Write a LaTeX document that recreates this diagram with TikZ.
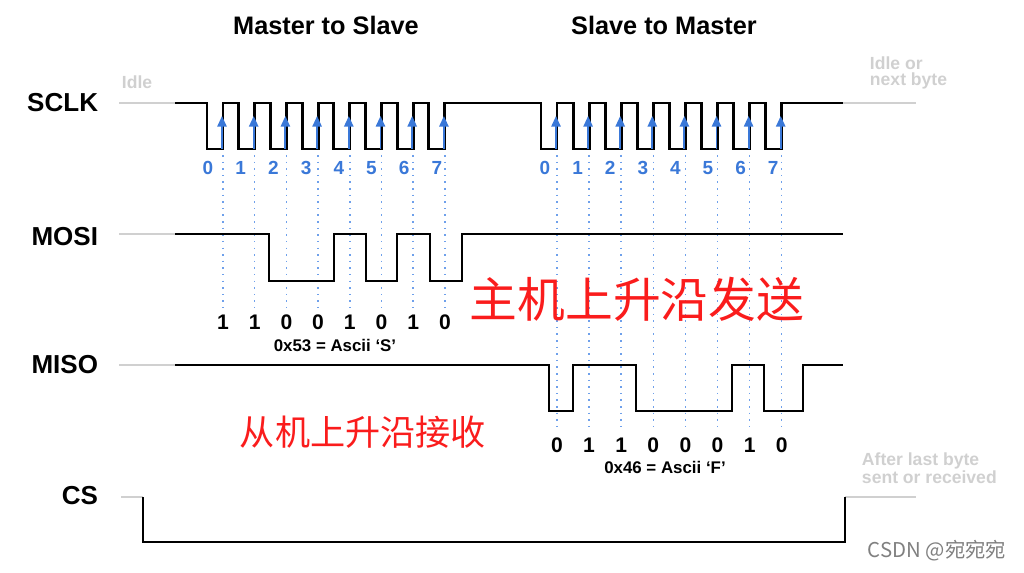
\documentclass[tikz,border=0pt]{standalone}
\usepackage{fontspec}
\setmainfont{Liberation Sans}
\newfontfamily\cjk{Noto Sans CJK SC}
\usetikzlibrary{positioning,arrows.meta}

\definecolor{edgeblue}{RGB}{58,120,216}
\definecolor{dotblue}{RGB}{110,160,235}
\definecolor{idlegray}{RGB}{208,208,208}
\definecolor{notered}{RGB}{250,28,28}

\tikzset{
  sig/.style={line width=2.1pt},
  idle/.style={idlegray, line width=1.6pt},
  riseedge/.style={edgeblue, line width=1.4pt, -{Triangle[width=6.5pt,length=7.5pt]}},
  guide/.style={dotblue, line width=1.1pt, dash pattern=on 1.1pt off 3.6pt},
  signame/.style={anchor=east, font=\fontsize{18.5}{20}\selectfont\bfseries},
  title/.style={font=\fontsize{18}{20}\selectfont\bfseries},
  bitno/.style={edgeblue, font=\fontsize{13.5}{15}\selectfont\bfseries},
  bitval/.style={font=\fontsize{15}{17}\selectfont\bfseries},
  ascii/.style={font=\fontsize{12}{14}\selectfont\bfseries},
  note/.style={idlegray, align=left, anchor=west, font=\fontsize{12.5}{11.5}\selectfont\bfseries},
}

\begin{document}
\begin{tikzpicture}[x=0.25mm, y=-0.25mm]
  \useasboundingbox (0,0) rectangle (1024,573);

  % titles
  \node[title] (m2s) at (326,25) {Master to Slave};
  \node[title] (s2m) at (664,25) {Slave to Master};

  % signal names
  \node[signame] (sclk) at (103,103) {SCLK};
  \node[signame] (mosi) at (103,237) {MOSI};
  \node[signame] (miso) at (103,365) {MISO};
  \node[signame] (cs) at (103,496) {CS};

  % idle notes
  \node[note] (idle) at (117,82) {Idle};
  \node[note] (nextbyte) at (865,73) {Idle or\\next byte};
  \node[note] (lastbyte) at (857,468) {After last byte\\sent or received};

  % dotted sample lines
  \foreach \i in {0,...,7} {
    \draw[guide] ({223+31.7*\i},155) -- ({223+31.7*\i},308);
    \draw[guide] ({557+32.1*\i},155) -- ({557+32.1*\i},432);
  }

  % idle levels
  \draw[idle] (119,103) -- (175,103);
  \draw[idle] (843,103) -- (916,103);
  \draw[idle] (119,234) -- (175,234);
  \draw[idle] (119,365) -- (175,365);
  \draw[idle] (121,497) -- (143,497);
  \draw[idle] (845,497) -- (916,497);

  % SCLK
  \draw[sig] (175,103)
    \foreach \i in {0,...,7} { -- ({207+31.7*\i},103) |- ({223+31.7*\i},149) -- ({223+31.7*\i},103) }
    \foreach \i in {0,...,7} { -- ({541+32.1*\i},103) |- ({557+32.1*\i},149) -- ({557+32.1*\i},103) }
    -- (843,103);
  \foreach \i in {0,...,7} {
    \draw[riseedge] ({222+31.7*\i},149) -- ({222+31.7*\i},116);
    \draw[riseedge] ({556+32.1*\i},149) -- ({556+32.1*\i},116);
    \node[bitno] (ln\i) at ({208+32.7*\i},168) {\i};
    \node[bitno] (rn\i) at ({545+32.6*\i},168) {\i};
  }

  % MOSI
  \draw[sig] (175,234) -- (269,234) |- (334,281) |- (366,234) |- (397,281)
    |- (430,234) |- (462,281) |- (843,234);
  \foreach \b [count=\i from 0] in {1,1,0,0,1,0,1,0}
    \node[bitval] (mb\i) at ({223+31.7*\i},322) {\b};
  \node[ascii] (hexs) at (335,345) {0x53 = Ascii ‘S’};

  % MISO
  \draw[sig] (175,365) -- (549,365) |- (573,411) |- (636,365) |- (732,411)
    |- (764,365) |- (803,411) |- (843,365);
  \foreach \b [count=\i from 0] in {0,1,1,0,0,0,1,0}
    \node[bitval] (sb\i) at ({557+32.1*\i},445) {\b};
  \node[ascii] (hexf) at (665,467) {0x46 = Ascii ‘F’};

  % CS
  \draw[sig] (143,497) |- (845,542) -- (845,497);

  % notes in red
  \node[notered, font=\cjk\fontsize{34}{36}\selectfont] (mastersend) at (637,299) {主机上升沿发送};
  \node[notered, font=\cjk\fontsize{25}{28}\selectfont] (slaverecv) at (363,432) {从机上升沿接收};

  \node[gray, font=\cjk\fontsize{14.5}{16}\selectfont] (mark) at (937,551) {CSDN @宛宛宛};
\end{tikzpicture}
\end{document}
